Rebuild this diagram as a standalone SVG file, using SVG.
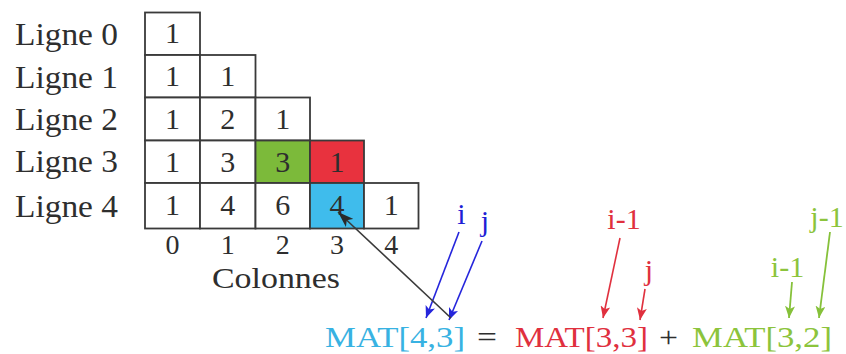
<svg xmlns="http://www.w3.org/2000/svg" width="846" height="354" viewBox="0 0 846 354">
<defs>
<style>
.cell{fill:#fff;stroke:#3a3a3a;stroke-width:1.8}
.g{fill:#7cba3a}.r{fill:#e8323e}.b{fill:#3fbcec}
.t{font-family:"Liberation Serif","Times New Roman",serif;fill:#2e2e2e}
.d{font-size:30px;text-anchor:middle}
.cl{font-size:28px;text-anchor:middle}
.lab{font-size:32px}
.f{font-size:30px}
.lb{font-size:30px;text-anchor:middle}
.cb{fill:#1f1fd6}.cr{fill:#e0303e}.cg{fill:#8cc43c}.cf{fill:#38b2e2}
.ab{stroke:#2525dc;stroke-width:1.6;fill:none}
.ar{stroke:#e0303e;stroke-width:1.6;fill:none}
.ag{stroke:#86c13a;stroke-width:1.8;fill:none}
.ak{stroke:#3a3a3a;stroke-width:1.6;fill:none}
</style>
<marker id="mb" markerUnits="userSpaceOnUse" markerWidth="14" markerHeight="10" refX="12" refY="5" orient="auto"><path d="M0,0 L12,5 L0,10 L3,5 Z" fill="#2525dc"/></marker>
<marker id="mr" markerUnits="userSpaceOnUse" markerWidth="14" markerHeight="10" refX="12" refY="5" orient="auto"><path d="M0,0 L12,5 L0,10 L3,5 Z" fill="#e0303e"/></marker>
<marker id="mg" markerUnits="userSpaceOnUse" markerWidth="14" markerHeight="10" refX="12" refY="5" orient="auto"><path d="M0,0 L12,5 L0,10 L3,5 Z" fill="#86c13a"/></marker>
<marker id="mk" markerUnits="userSpaceOnUse" markerWidth="18" markerHeight="11" refX="16" refY="5.5" orient="auto"><path d="M0,0 L16,5.5 L0,11 L4,5.5 Z" fill="#2a2a2a"/></marker>
</defs>
<rect width="846" height="354" fill="#fff"/>

<g id="row-labels" class="t lab">
<text x="15" y="45" textLength="103" lengthAdjust="spacingAndGlyphs">Ligne 0</text>
<text x="15" y="87.5" textLength="103" lengthAdjust="spacingAndGlyphs">Ligne 1</text>
<text x="15" y="129.5" textLength="103" lengthAdjust="spacingAndGlyphs">Ligne 2</text>
<text x="15" y="172" textLength="103" lengthAdjust="spacingAndGlyphs">Ligne 3</text>
<text x="15" y="217" textLength="103" lengthAdjust="spacingAndGlyphs">Ligne 4</text>
</g>

<g id="c00"><rect class="cell" x="145" y="12.5" width="55" height="42.5"/><text class="t d" x="172.5" y="43">1</text></g>

<g id="c10"><rect class="cell" x="145" y="55" width="55" height="42.5"/><text class="t d" x="172.5" y="86">1</text></g>
<g id="c11"><rect class="cell" x="200" y="55" width="55.5" height="42.5"/><text class="t d" x="227.75" y="86">1</text></g>

<g id="c20"><rect class="cell" x="145" y="97.5" width="55" height="43"/><text class="t d" x="172.5" y="129">1</text></g>
<g id="c21"><rect class="cell" x="200" y="97.5" width="55.5" height="43"/><text class="t d" x="227.75" y="129">2</text></g>
<g id="c22"><rect class="cell" x="255.5" y="97.5" width="54.5" height="43"/><text class="t d" x="282.75" y="129">1</text></g>

<g id="c30"><rect class="cell" x="145" y="140.5" width="55" height="42.5"/><text class="t d" x="172.5" y="171.5">1</text></g>
<g id="c31"><rect class="cell" x="200" y="140.5" width="55.5" height="42.5"/><text class="t d" x="227.75" y="171.5">3</text></g>
<g id="c32"><rect class="cell g" x="255.5" y="140.5" width="54.5" height="42.5"/><text class="t d" x="282.75" y="171.5">3</text></g>
<g id="c33"><rect class="cell r" x="310" y="140.5" width="54" height="42.5"/><text class="t d" x="337" y="171.5">1</text></g>

<g id="c40"><rect class="cell" x="145" y="183" width="55" height="45.5"/><text class="t d" x="172.5" y="215">1</text></g>
<g id="c41"><rect class="cell" x="200" y="183" width="55.5" height="45.5"/><text class="t d" x="227.75" y="215">4</text></g>
<g id="c42"><rect class="cell" x="255.5" y="183" width="54.5" height="45.5"/><text class="t d" x="282.75" y="215">6</text></g>
<g id="c43"><rect class="cell b" x="310" y="183" width="54" height="45.5"/><text class="t d" x="337" y="215">4</text></g>
<g id="c44"><rect class="cell" x="364" y="183" width="54.5" height="45.5"/><text class="t d" x="391.25" y="215">1</text></g>

<g id="col-labels" class="t cl">
<text x="172.5" y="254">0</text>
<text x="227.75" y="254">1</text>
<text x="282.75" y="254">2</text>
<text x="337" y="254">3</text>
<text x="391.25" y="254">4</text>
</g>
<g id="colonnes"><text class="t" x="212" y="288" font-size="30" textLength="128" lengthAdjust="spacingAndGlyphs">Colonnes</text></g>

<g id="formula" class="t f">
<text class="cf" x="325" y="347" textLength="140" lengthAdjust="spacingAndGlyphs">MAT[4,3]</text>
<text x="477" y="347" textLength="20" lengthAdjust="spacingAndGlyphs">=</text>
<text class="cr" x="515" y="347" textLength="133" lengthAdjust="spacingAndGlyphs">MAT[3,3]</text>
<text x="659" y="347" textLength="19" lengthAdjust="spacingAndGlyphs">+</text>
<text class="cg" x="692" y="347" textLength="140" lengthAdjust="spacingAndGlyphs">MAT[3,2]</text>
</g>

<g id="index-labels" class="t lb">
<text class="cb" x="461.5" y="224">i</text>
<text class="cb" x="485" y="231">j</text>
<text class="cr" x="624" y="229">i-1</text>
<text class="cr" x="649" y="280">j</text>
<text class="cg" x="827" y="227">j-1</text>
<text class="cg" x="787.5" y="277">i-1</text>
</g>

<g id="connectors">
<line class="ab" x1="459" y1="232" x2="426" y2="318" marker-end="url(#mb)"/>
<line class="ab" x1="482" y1="241" x2="449" y2="320" marker-end="url(#mb)"/>
<line class="ar" x1="620" y1="238" x2="603" y2="318" marker-end="url(#mr)"/>
<line class="ar" x1="645" y1="289" x2="640" y2="320" marker-end="url(#mr)"/>
<line class="ag" x1="792" y1="282" x2="789" y2="318" marker-end="url(#mg)"/>
<line class="ag" x1="830" y1="232" x2="819" y2="318" marker-end="url(#mg)"/>
<line class="ak" x1="451" y1="318" x2="338" y2="212" marker-end="url(#mk)"/>
</g>
</svg>
